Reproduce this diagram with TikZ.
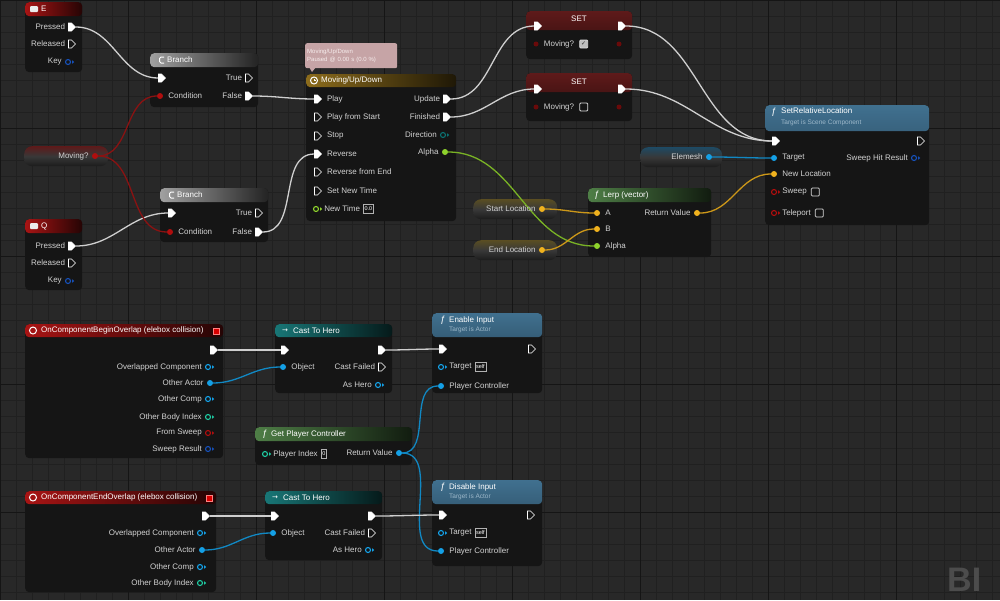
\documentclass[tikz,border=0pt]{standalone}
\usepackage{fontspec}
\newfontfamily\uefont{Liberation Sans}
\newfontfamily\uesym{DejaVu Sans}
\usetikzlibrary{positioning,shapes.symbols}

\definecolor{bg}{HTML}{282828}
\definecolor{minorline}{HTML}{202020}
\definecolor{majorline}{HTML}{151515}
\definecolor{nodebody}{HTML}{151515}
\definecolor{labeltext}{HTML}{D2D2D2}
\definecolor{subblue}{HTML}{9DB8CA}
\definecolor{wirewhite}{HTML}{CFCFCF}
\definecolor{wirebool}{HTML}{8A1212}
\definecolor{boolred}{HTML}{B00E0E}
\definecolor{darkbool}{HTML}{6A0A0A}
\definecolor{objblue}{HTML}{14A0E6}
\definecolor{structblue}{HTML}{1650B8}
\definecolor{floatgreen}{HTML}{8ED22C}
\definecolor{vecyellow}{HTML}{F0B21E}
\definecolor{intteal}{HTML}{1EC8A0}
\definecolor{enumteal}{HTML}{0B7070}
\definecolor{hdrred}{HTML}{A81414}
\definecolor{hdrgray}{HTML}{A0A0A0}
\definecolor{hdrgold}{HTML}{8C6C1C}
\definecolor{hdrgreen}{HTML}{4E7E46}
\definecolor{hdrteal}{HTML}{187676}
\definecolor{hdrblue}{HTML}{40708F}
\definecolor{hdrset}{HTML}{5E1A1A}
\definecolor{tintred}{HTML}{5E1A1A}
\definecolor{tintblue}{HTML}{1E4A64}
\definecolor{tintgold}{HTML}{5A4E22}
\definecolor{getmid}{HTML}{383838}
\definecolor{getbot}{HTML}{1C1C1C}
\definecolor{notepink}{HTML}{C6A4A6}
\definecolor{notetext}{HTML}{F6ECEC}
\definecolor{wmgray}{HTML}{4C4C4C}

\pgfdeclarelayer{grid}
\pgfdeclarelayer{body}
\pgfdeclarelayer{wires}
\pgfsetlayers{grid,body,wires,main}

% pin with its label on the right / on the left
\newcommand{\pinin}[4]{\node[#2] (#1) at (#3) {};\node[lbl, right=5pt of #1] (#1-l) {#4};}
\newcommand{\pinout}[4]{\node[#2] (#1) at (#3) {};\node[lbl, left=3pt of #1] (#1-l) {#4};}
\newcommand{\opentip}[2]{\fill[#2] ([xshift=1pt,yshift=1.8pt]#1.east) -- ++(2.2pt,-1.8pt) -- ++(-2.2pt,-1.8pt) -- cycle;}

\begin{document}
\begin{tikzpicture}[x=1pt, y=-1pt,
  bpbox/.style={rectangle, rounded corners=4pt, fill=nodebody, anchor=north west, inner sep=0pt},
  hshade/.style 2 args={path picture={\shade[left color=#1, right color=#1!22!black]
      (path picture bounding box.north west) rectangle ([yshift=-#2]path picture bounding box.north east);}},
  vshade/.style 2 args={path picture={\shade[top color=#1, bottom color=#1!45!black]
      (path picture bounding box.north west) rectangle ([yshift=-#2]path picture bounding box.north east);}},
  getter/.style={rectangle, rounded corners=8pt, anchor=north west, inner sep=0pt, minimum height=20pt,
      top color=#1, bottom color=getbot, middle color=getmid},
  note/.style={rectangle, rounded corners=2pt, fill=notepink, anchor=north west, minimum width=92pt,
      minimum height=25pt, text width=88pt, align=left, inner sep=2pt, text=notetext,
      font=\uefont\fontsize{6}{7.5}\selectfont},
  title/.style={font=\uefont\fontsize{8}{9}\selectfont, text=white, anchor=west, inner sep=0pt},
  sub/.style={title, text=subblue, font=\uefont\fontsize{6.5}{8}\selectfont},
  lbl/.style={font=\uefont\fontsize{8}{9}\selectfont, text=labeltext, inner sep=0pt},
  execpin/.style={signal, signal to=east, fill=white, draw=white, line width=0.6pt,
      minimum width=7pt, minimum height=8pt, inner sep=0pt},
  execopen/.style={execpin, fill=nodebody},
  datapin/.style={circle, fill=#1, minimum size=6pt, inner sep=0pt},
  dataopen/.style={circle, draw=#1, line width=1.1pt, minimum size=5pt, inner sep=0pt},
  boolpin/.style={circle, fill=darkbool, minimum size=5pt, inner sep=0pt},
  cboxoff/.style={rectangle, rounded corners=1pt, draw=white!85!black, line width=0.8pt,
      minimum size=8pt, inner sep=0pt},
  cboxon/.style={cboxoff, fill=white!75!black, text=black!80, font=\uesym\fontsize{6}{6}\selectfont},
  valbox/.style={rectangle, draw=white!70!black, line width=0.6pt, inner sep=1.2pt, minimum height=9pt,
      text=white, font=\uefont\fontsize{5.5}{6}\selectfont},
  kbicon/.style={rectangle, rounded corners=1pt, fill=white!92!black, minimum width=8pt,
      minimum height=6pt, inner sep=0pt},
  evicon/.style={circle, draw=white, line width=1pt, minimum size=7pt, inner sep=0pt},
  fnicon/.style={title, font=\uefont\itshape\fontsize{9}{9}\selectfont},
  casticon/.style={title, font=\uesym\fontsize{7}{7}\selectfont},
  delsq/.style={rectangle, fill=red!85!black, draw=red!50!white, line width=0.5pt, minimum size=6pt, inner sep=0pt},
  icon/.style={draw=white, line width=1pt},
  wire/.style={draw=#1, line width=1.3pt, out=0, in=180},
]
\useasboundingbox (0,0) rectangle (1000,600);

% graph paper
\begin{pgfonlayer}{grid}
  \fill[bg] (0,0) rectangle (1000,600);
  \foreach \g in {0,16,...,1000} \draw[minorline, line width=0.5pt] (\g,0) -- (\g,600);
  \foreach \g in {0,16,...,600} \draw[minorline, line width=0.5pt] (0,\g) -- (1000,\g);
  \foreach \g in {0,128,...,1000} \draw[majorline, line width=1pt] (\g,0) -- (\g,600);
  \foreach \g in {0,128,...,600} \draw[majorline, line width=1pt] (0,\g) -- (1000,\g);
\end{pgfonlayer}

% node bodies
\begin{pgfonlayer}{body}
  \node[bpbox, hshade={hdrred}{14pt}, minimum width=57pt, minimum height=70pt] (keyE) at (25,2) {};
  \node[bpbox, hshade={hdrred}{14pt}, minimum width=57pt, minimum height=71pt] (keyQ) at (25,219) {};
  \node[bpbox, hshade={hdrgray}{14pt}, minimum width=108pt, minimum height=54pt] (br1) at (150,53) {};
  \node[bpbox, hshade={hdrgray}{14pt}, minimum width=108pt, minimum height=54pt] (br2) at (160,188) {};
  \node[getter=tintred, minimum width=84pt] (movget) at (24,146) {};
  \node[note] (tlnote) at (305,43) {Moving/Up/Down\\Paused @ 0.00 s (0.0 \%)};
  \node[bpbox, hshade={hdrgold}{13pt}, minimum width=150pt, minimum height=147pt] (tl) at (306,74) {};
  \node[bpbox, vshade={hdrset}{19pt}, minimum width=106pt, minimum height=48pt] (set1) at (526,11) {};
  \node[bpbox, vshade={hdrset}{19pt}, minimum width=106pt, minimum height=48pt] (set2) at (526,73) {};
  \node[getter=tintblue, minimum width=82pt] (elem) at (640,147) {};
  \node[bpbox, vshade={hdrblue}{26pt}, minimum width=164pt, minimum height=120pt] (srl) at (765,105) {};
  \node[getter=tintgold, minimum width=84pt] (sloc) at (473,199) {};
  \node[getter=tintgold, minimum width=84pt] (eloc) at (473,240) {};
  \node[bpbox, hshade={hdrgreen}{14pt}, minimum width=123pt, minimum height=69pt] (lerp) at (588,188) {};
  \node[bpbox, hshade={hdrred}{13pt}, minimum width=198pt, minimum height=134pt] (bov) at (25,324) {};
  \node[bpbox, hshade={hdrteal}{13pt}, minimum width=117pt, minimum height=69pt] (cast1) at (275,324) {};
  \node[bpbox, vshade={hdrblue}{24pt}, minimum width=110pt, minimum height=80pt] (enin) at (432,313) {};
  \node[bpbox, hshade={hdrgreen}{14pt}, minimum width=157pt, minimum height=38pt] (gpc) at (255,427) {};
  \node[bpbox, hshade={hdrred}{13pt}, minimum width=191pt, minimum height=101pt] (eov) at (25,491) {};
  \node[bpbox, hshade={hdrteal}{13pt}, minimum width=117pt, minimum height=69pt] (cast2) at (265,491) {};
  \node[bpbox, vshade={hdrblue}{24pt}, minimum width=110pt, minimum height=86pt] (dsin) at (432,480) {};
\end{pgfonlayer}
\fill[notepink] (309,67) -- (316,67) -- (312,72) -- cycle;

% headers
\node[kbicon] (keyE-i) at (34,9) {};
\node[title] (keyE-h) at (41,9) {E};
\node[kbicon] (keyQ-i) at (34,226) {};
\node[title] (keyQ-h) at (41,226) {Q};
\draw[icon, rounded corners=1.5pt] (164,57) -- (159.5,57) -- (159.5,63) -- (164,63);
\node[title] (br1-h) at (167,60) {Branch};
\draw[icon, rounded corners=1.5pt] (174,192) -- (169.5,192) -- (169.5,198) -- (174,198);
\node[title] (br2-h) at (177,195) {Branch};
\node[evicon] (tl-i) at (314,80.5) {};
\draw[icon, line width=0.7pt] (tl-i.center) -- ++(0,2pt) (tl-i.center) -- ++(1.8pt,0);
\node[title] (tl-h) at (321,80.5) {Moving/Up/Down};
\node[title, anchor=center] (set1-h) at (579,19) {SET};
\node[title, anchor=center] (set2-h) at (579,82) {SET};
\node[fnicon] (srl-i) at (771,112) {ƒ};
\node[title] (srl-h) at (781,111) {SetRelativeLocation};
\node[sub] (srl-s) at (781,123) {Target is Scene Component};
\node[fnicon] (lerp-i) at (594,195) {ƒ};
\node[title] (lerp-h) at (603,195) {Lerp (vector)};
\node[evicon] (bov-i) at (33,330.5) {};
\node[title] (bov-h) at (41,330.5) {OnComponentBeginOverlap (elebox collision)};
\node[delsq] (bov-d) at (216,331) {};
\node[casticon] (cast1-i) at (282,330.5) {→};
\node[title] (cast1-h) at (293,330.5) {Cast To Hero};
\node[fnicon] (enin-i) at (440,320) {ƒ};
\node[title] (enin-h) at (449,320) {Enable Input};
\node[sub] (enin-s) at (449,330) {Target is Actor};
\node[fnicon] (gpc-i) at (262,434) {ƒ};
\node[title] (gpc-h) at (271,434) {Get Player Controller};
\node[evicon] (eov-i) at (33,497.5) {};
\node[title] (eov-h) at (41,497.5) {OnComponentEndOverlap (elebox collision)};
\node[delsq] (eov-d) at (209,498) {};
\node[casticon] (cast2-i) at (272,497.5) {→};
\node[title] (cast2-h) at (283,497.5) {Cast To Hero};
\node[fnicon] (dsin-i) at (440,487) {ƒ};
\node[title] (dsin-h) at (449,487) {Disable Input};
\node[sub] (dsin-s) at (449,497) {Target is Actor};

% pins
\pinout{keyE-p}{execpin}{70,27}{Pressed}
\pinout{keyE-r}{execopen}{70,44}{Released}
\pinout{keyE-k}{dataopen=structblue}{68,62}{Key}
\pinout{keyQ-p}{execpin}{70,246}{Pressed}
\pinout{keyQ-r}{execopen}{70,263}{Released}
\pinout{keyQ-k}{dataopen=structblue}{68,281}{Key}

\pinin{br1-x}{execpin}{160,78}{}
\pinin{br1-c}{datapin=boolred}{160,96}{Condition}
\pinout{br1-tr}{execopen}{247,78}{True}
\pinout{br1-fa}{execpin}{247,96}{False}
\pinin{br2-x}{execpin}{170,213}{}
\pinin{br2-c}{datapin=boolred}{170,232}{Condition}
\pinout{br2-tr}{execopen}{257,213}{True}
\pinout{br2-fa}{execpin}{257,232}{False}

\pinout{movget-o}{datapin=boolred}{95,156}{Moving?}

\pinin{tl-play}{execpin}{316,99}{Play}
\pinin{tl-pfs}{execopen}{316,117}{Play from Start}
\pinin{tl-stop}{execopen}{316,136}{Stop}
\pinin{tl-rev}{execpin}{316,154}{Reverse}
\pinin{tl-rfe}{execopen}{316,172}{Reverse from End}
\pinin{tl-snt}{execopen}{316,191}{Set New Time}
\pinin{tl-nt}{dataopen=floatgreen}{316,209}{New Time}
\node[valbox, right=3pt of tl-nt-l] (tl-nt-v) {0.0};
\pinout{tl-upd}{execpin}{445,99}{Update}
\pinout{tl-fin}{execpin}{445,117}{Finished}
\pinout{tl-dir}{dataopen=enumteal}{443,135}{Direction}
\pinout{tl-alpha}{datapin=floatgreen}{445,152}{Alpha}

\pinin{set1-x}{execpin}{536,26}{}
\pinout{set1-o}{execpin}{620,26}{}
\pinin{set1-m}{boolpin}{536,44}{Moving?}
\node[cboxon, right=5pt of set1-m-l] (set1-cb) {✓};
\node[boolpin] (set1-mo) at (619,44) {};
\pinin{set2-x}{execpin}{536,89}{}
\pinout{set2-o}{execpin}{620,89}{}
\pinin{set2-m}{boolpin}{536,107}{Moving?}
\node[cboxoff, right=5pt of set2-m-l] (set2-cb) {};
\node[boolpin] (set2-mo) at (619,107) {};

\pinout{elem-o}{datapin=objblue}{709,157}{Elemesh}

\pinin{srl-x}{execpin}{774,141}{}
\pinout{srl-o}{execopen}{919,141}{}
\pinin{srl-tg}{datapin=objblue}{774,158}{Target}
\pinout{srl-hit}{dataopen=structblue}{914,158}{Sweep Hit Result}
\pinin{srl-nl}{datapin=vecyellow}{774,174}{New Location}
\pinin{srl-sw}{dataopen=boolred}{774,192}{Sweep}
\node[cboxoff, right=4pt of srl-sw-l] (srl-sw-cb) {};
\pinin{srl-tp}{dataopen=boolred}{774,213}{Teleport}
\node[cboxoff, right=4pt of srl-tp-l] (srl-tp-cb) {};

\pinout{sloc-o}{datapin=vecyellow}{542,209}{Start Location}
\pinout{eloc-o}{datapin=vecyellow}{542,250}{End Location}

\pinin{lerp-a}{datapin=vecyellow}{597,213}{A}
\pinin{lerp-b}{datapin=vecyellow}{597,229}{B}
\pinin{lerp-al}{datapin=floatgreen}{597,246}{Alpha}
\pinout{lerp-rv}{datapin=vecyellow}{697,213}{Return Value}

\pinout{bov-x}{execpin}{212,350}{}
\pinout{bov-oc}{dataopen=objblue}{208,367}{Overlapped Component}
\pinout{bov-oa}{datapin=objblue}{210,383}{Other Actor}
\pinout{bov-ocp}{dataopen=objblue}{208,399}{Other Comp}
\pinout{bov-obi}{dataopen=intteal}{208,417}{Other Body Index}
\pinout{bov-fs}{dataopen=boolred}{208,433}{From Sweep}
\pinout{bov-sr}{dataopen=structblue}{208,449}{Sweep Result}

\pinin{cast1-x}{execpin}{283,350}{}
\pinin{cast1-obj}{datapin=objblue}{283,367}{Object}
\pinout{cast1-o}{execpin}{380,350}{}
\pinout{cast1-cf}{execopen}{380,367}{Cast Failed}
\pinout{cast1-ah}{dataopen=objblue}{378,385}{As Hero}

\pinin{enin-x}{execpin}{441,349}{}
\pinout{enin-o}{execopen}{530,349}{}
\pinin{enin-tg}{dataopen=objblue}{441,367}{Target}
\node[valbox, right=3pt of enin-tg-l] (enin-tg-v) {self};
\pinin{enin-pc}{datapin=objblue}{441,386}{Player Controller}

\pinin{gpc-pi}{dataopen=intteal}{265,454}{Player Index}
\node[valbox, right=3pt of gpc-pi-l] (gpc-pi-v) {0};
\pinout{gpc-rv}{datapin=objblue}{399,453}{Return Value}

\pinout{eov-x}{execpin}{204,516}{}
\pinout{eov-oc}{dataopen=objblue}{200,533}{Overlapped Component}
\pinout{eov-oa}{datapin=objblue}{202,550}{Other Actor}
\pinout{eov-ocp}{dataopen=objblue}{200,567}{Other Comp}
\pinout{eov-obi}{dataopen=intteal}{200,583}{Other Body Index}

\pinin{cast2-x}{execpin}{273,516}{}
\pinin{cast2-obj}{datapin=objblue}{273,533}{Object}
\pinout{cast2-o}{execpin}{370,516}{}
\pinout{cast2-cf}{execopen}{370,533}{Cast Failed}
\pinout{cast2-ah}{dataopen=objblue}{368,550}{As Hero}

\pinin{dsin-x}{execpin}{441,515}{}
\pinout{dsin-o}{execopen}{529,515}{}
\pinin{dsin-tg}{dataopen=objblue}{441,533}{Target}
\node[valbox, right=3pt of dsin-tg-l] (dsin-tg-v) {self};
\pinin{dsin-pc}{datapin=objblue}{441,551}{Player Controller}

\foreach \p/\c in {keyE-k/structblue, keyQ-k/structblue, tl-nt/floatgreen, tl-dir/enumteal,
    srl-hit/structblue, srl-sw/boolred, srl-tp/boolred, bov-oc/objblue, bov-ocp/objblue,
    bov-obi/intteal, bov-fs/boolred, bov-sr/structblue, cast1-ah/objblue, enin-tg/objblue,
    gpc-pi/intteal, eov-oc/objblue, eov-ocp/objblue, eov-obi/intteal, cast2-ah/objblue, dsin-tg/objblue}
  \opentip{\p}{\c};

% wires
\begin{pgfonlayer}{wires}
  \draw[wire=wirewhite] (keyE-p) to (br1-x);
  \draw[wire=wirewhite] (keyQ-p) to (br2-x);
  \draw[wire=wirewhite] (br1-fa) to (tl-play);
  \draw[wire=wirewhite] (br2-fa) to (tl-rev);
  \draw[wire=wirewhite] (tl-upd) to (set1-x);
  \draw[wire=wirewhite] (tl-fin) to (set2-x);
  \draw[wire=wirewhite] (set1-o) to (srl-x);
  \draw[wire=wirewhite] (set2-o) to (srl-x);
  \draw[wire=wirebool] (movget-o) to (br1-c);
  \draw[wire=wirebool] (movget-o) to (br2-c);
  \draw[wire=floatgreen!85!black] (tl-alpha) to (lerp-al);
  \draw[wire=vecyellow!85!black] (sloc-o) to (lerp-a);
  \draw[wire=vecyellow!85!black] (eloc-o) to (lerp-b);
  \draw[wire=vecyellow!85!black] (lerp-rv) to (srl-nl);
  \draw[wire=objblue!85!black] (elem-o) to (srl-tg);
  \draw[wire=wirewhite] (bov-x) to (cast1-x);
  \draw[wire=objblue!85!black] (bov-oa) to (cast1-obj);
  \draw[wire=wirewhite] (cast1-o) to (enin-x);
  \draw[wire=objblue!85!black] (gpc-rv) to (enin-pc);
  \draw[wire=objblue!85!black] (gpc-rv) to (dsin-pc);
  \draw[wire=wirewhite] (eov-x) to (cast2-x);
  \draw[wire=objblue!85!black] (eov-oa) to (cast2-obj);
  \draw[wire=wirewhite] (cast2-o) to (dsin-x);
\end{pgfonlayer}

\node[anchor=base west, inner sep=0pt, text=wmgray, font=\uefont\bfseries\fontsize{34}{34}\selectfont] (wm) at (947,591) {BI};
\end{tikzpicture}
\end{document}
